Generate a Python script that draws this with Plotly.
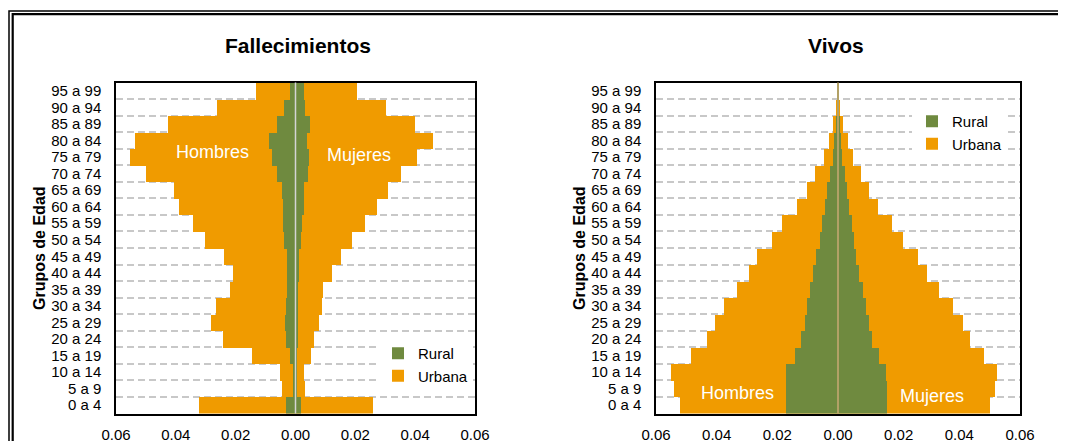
""" Population pyramids: deaths (Fallecimientos) and live births (Vivos) by age group.

"""
import plotly.graph_objects as go

# Data (bottom to top: 0 a 4 ... 95 a 99)
grupos = ['0 a 4', '5 a 9', '10 a 14', '15 a 19', '20 a 24', '25 a 29', '30 a 34', '35 a 39',
          '40 a 44', '45 a 49', '50 a 54', '55 a 59', '60 a 64', '65 a 69', '70 a 74', '75 a 79',
          '80 a 84', '85 a 89', '90 a 94', '95 a 99']

fall_hombres_urbana = [0.0321, 0.0046, 0.0052, 0.0144, 0.0243, 0.0284, 0.0266, 0.0220, 0.0209, 0.0238,
                       0.0301, 0.0344, 0.0388, 0.0407, 0.0500, 0.0553, 0.0536, 0.0427, 0.0264, 0.0133]
fall_mujeres_urbana = [0.0260, 0.0032, 0.0027, 0.0053, 0.0061, 0.0078, 0.0088, 0.0091, 0.0121, 0.0151,
                       0.0190, 0.0231, 0.0273, 0.0308, 0.0354, 0.0406, 0.0461, 0.0399, 0.0301, 0.0204]
fall_hombres_rural = [0.0032, 0.0007, 0.0009, 0.0019, 0.0032, 0.0036, 0.0032, 0.0027, 0.0028, 0.0028,
                      0.0038, 0.0041, 0.0043, 0.0044, 0.0062, 0.0078, 0.0088, 0.0062, 0.0039, 0.0019]
fall_mujeres_rural = [0.0020, 0.0003, 0.0002, 0.0003, 0.0007, 0.0008, 0.0009, 0.0010, 0.0011, 0.0012,
                      0.0017, 0.0021, 0.0028, 0.0029, 0.0042, 0.0046, 0.0040, 0.0050, 0.0033, 0.0027]

vivos_hombres_urbana = [0.0521, 0.0540, 0.0549, 0.0484, 0.0433, 0.0404, 0.0376, 0.0332, 0.0292, 0.0267,
                        0.0217, 0.0183, 0.0136, 0.0103, 0.0075, 0.0047, 0.0031, 0.0017, 0.0007, 0.0003]
vivos_mujeres_urbana = [0.0500, 0.0518, 0.0525, 0.0480, 0.0436, 0.0411, 0.0378, 0.0332, 0.0292, 0.0265,
                        0.0214, 0.0179, 0.0132, 0.0103, 0.0075, 0.0050, 0.0033, 0.0018, 0.0007, 0.0003]
vivos_hombres_rural = [0.0170, 0.0172, 0.0170, 0.0143, 0.0121, 0.0109, 0.0103, 0.0093, 0.0082, 0.0073,
                       0.0060, 0.0052, 0.0044, 0.0035, 0.0028, 0.0018, 0.0012, 0.0008, 0.0003, 0.0001]
vivos_mujeres_rural = [0.0162, 0.0160, 0.0158, 0.0136, 0.0112, 0.0103, 0.0092, 0.0083, 0.0069, 0.0060,
                       0.0052, 0.0045, 0.0036, 0.0029, 0.0022, 0.0013, 0.0010, 0.0006, 0.0002, 0.0001]

x_ticks = [-0.06, -0.04, -0.02, 0.0, 0.02, 0.04, 0.06]

# Styling
# The page body keeps its default 8px margin, so the figure fills the rest of the 1066x441 window
OFF = 8
W, H = 1066 - OFF, 441 - OFF
ORANGE, GREEN = '#F09B00', '#6F8A3F'
FONT = 'Arial, Liberation Sans, sans-serif'


def fx(px):
    """ Window pixel -> paper x """
    return (px - OFF) / W


def fy(py):
    """ Window pixel -> paper y """
    return 1 - (py - OFF) / H


fig = go.Figure()
panels = [
    ('x', 'y', 'legend', fall_hombres_urbana, fall_mujeres_urbana, fall_hombres_rural, fall_mujeres_rural),
    ('x2', 'y2', 'legend2', vivos_hombres_urbana, vivos_mujeres_urbana, vivos_hombres_rural, vivos_mujeres_rural),
]
for xa, ya, leg, hu, mu, hr, mr in panels:
    # Urbana first, rural overlaid on top
    for vals, sign, show in [(hu, -1, False), (mu, 1, True)]:
        fig.add_trace(go.Bar(
            y=grupos, x=[sign * v for v in vals], orientation='h', name='Urbana',
            marker=dict(color=ORANGE, line=dict(width=0)), xaxis=xa, yaxis=ya,
            legend=leg, legendrank=2, showlegend=show))
    for vals, sign, show in [(hr, -1, False), (mr, 1, True)]:
        fig.add_trace(go.Bar(
            y=grupos, x=[sign * v for v in vals], orientation='h', name='Rural',
            marker=dict(color=GREEN, line=dict(width=0)), xaxis=xa, yaxis=ya,
            legend=leg, legendrank=1, showlegend=show))

axis_x = dict(
    range=[-0.06, 0.06], tickvals=x_ticks, ticktext=['{:.2f}'.format(abs(v)) for v in x_ticks],
    showgrid=False, zeroline=False, showline=True, linecolor='black', linewidth=1.5, mirror=True,
    ticks='', ticklabelstandoff=7, automargin=False, tickfont=dict(size=15, color='black'))
axis_y = dict(
    type='category', categoryorder='array', categoryarray=grupos, tickson='boundaries',
    tickmode='linear', tick0=0, dtick=1, automargin=False,
    showgrid=True, gridcolor='#C8C8C8', gridwidth=1.5, griddash='7px,4px',
    showline=True, linecolor='black', linewidth=1.5, mirror=True,
    ticks='', ticklabelstandoff=10, tickfont=dict(size=15, color='black'))

legend_style = dict(bgcolor='white', font=dict(size=15, color='black', family=FONT),
                    traceorder='normal', itemwidth=30, tracegroupgap=0, yanchor='top', xanchor='left')

fig.update_layout(
    width=W, height=H, margin=dict(l=0, r=0, t=0, b=0, autoexpand=False),
    paper_bgcolor='white', plot_bgcolor='white',
    font=dict(family=FONT, size=15, color='black'),
    barmode='overlay', bargap=0,
    xaxis=dict(axis_x, domain=[fx(116), fx(475)], anchor='y'),
    yaxis=dict(axis_y, domain=[fy(413.5), fy(82.5)], anchor='x'),
    xaxis2=dict(axis_x, domain=[fx(656), fx(1020)], anchor='y2'),
    yaxis2=dict(axis_y, domain=[fy(413.5), fy(82.5)], anchor='x2'),
    legend=dict(legend_style, x=fx(378), y=fy(337)),
    legend2=dict(legend_style, x=fx(912), y=fy(105)),
)

# Titles, axis title and labels inside bars
annotations = [
    dict(text='<b>Fallecimientos</b>', x=fx(298), y=fy(45), font=dict(size=21)),
    dict(text='<b>Vivos</b>', x=fx(836), y=fy(45), font=dict(size=21)),
    dict(text='<b>Grupos de Edad</b>', x=fx(40), y=fy(248), textangle=-90, font=dict(size=16)),
    dict(text='<b>Grupos de Edad</b>', x=fx(580), y=fy(248), textangle=-90, font=dict(size=16)),
    dict(text='Hombres', x=fx(212), y=fy(152), font=dict(size=18, color='white')),
    dict(text='Mujeres', x=fx(359), y=fy(155), font=dict(size=18, color='white')),
    dict(text='Hombres', x=fx(737), y=fy(393), font=dict(size=18, color='white')),
    dict(text='Mujeres', x=fx(932), y=fy(396), font=dict(size=18, color='white')),
]
for a in annotations:
    fig.add_annotation(xref='paper', yref='paper', showarrow=False, xanchor='center', yanchor='middle', **a)

# Zero lines drawn above the bars
fig.add_shape(type='line', xref='x', yref='y domain', x0=0, x1=0, y0=0, y1=1,
              line=dict(color='#D4D4D4', width=1.5), layer='above')
fig.add_shape(type='line', xref='x2', yref='y2 domain', x0=0, x1=0, y0=0, y1=1,
              line=dict(color='#C9A874', width=1.5), layer='above')

# Double outer frame (cut off at right and bottom)
fig.add_shape(type='rect', xref='paper', yref='paper', x0=fx(9), x1=1.05, y0=-0.05, y1=fy(11),
              line=dict(color='black', width=1.5), layer='above')
fig.add_shape(type='rect', xref='paper', yref='paper', x0=fx(12.7), x1=1.05, y0=-0.05, y1=fy(14.2),
              line=dict(color='black', width=2.2), layer='above')

fig.write_html('out.html')
